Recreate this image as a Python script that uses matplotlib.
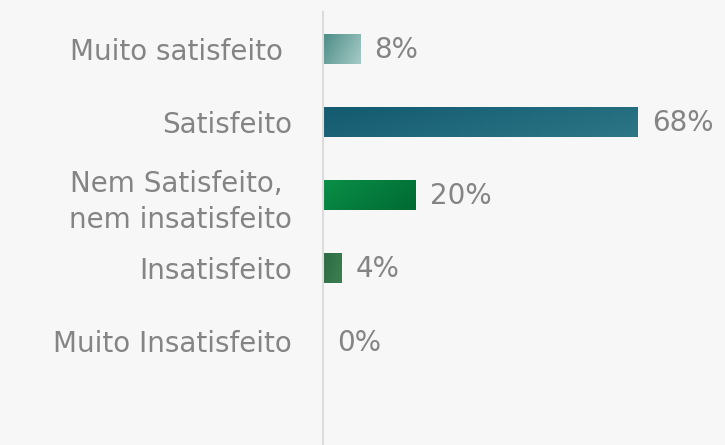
import numpy as np
import matplotlib.pyplot as plt
from matplotlib.colors import to_rgb

# dados da pesquisa de satisfação
categorias = ["Muito satisfeito ", "Satisfeito", "Nem Satisfeito, \nnem insatisfeito", "Insatisfeito", "Muito Insatisfeito"]
valores = [8, 68, 20, 4, 0]

# cores (início, fim) do degradê de cada barra
cores = [("#4c8c86", "#a6cbc7"), ("#145a70", "#2c7686"), ("#0a8f47", "#006a33"),
         ("#2c6a42", "#3d8052"), ("#3f8a55", "#3f8a55")]

fundo = "#f7f7f7"
cinza = "#848484"
fonte = dict(family="DejaVu Sans", fontsize=20)


def degrade(c1, c2, n=64):
    # degradê diagonal (canto superior esquerdo -> inferior direito)
    a = np.array(to_rgb(c1))
    b = np.array(to_rgb(c2))
    xx, yy = np.meshgrid(np.linspace(0, 1, n), np.linspace(0, 1, n))
    t = (0.7 * xx + 0.3 * yy)[..., None]
    return a * (1 - t) + b * t


fig = plt.figure(figsize=(7.25, 4.45), dpi=100, facecolor=fundo)
ax = fig.add_axes([322.5 / 725, 0, 1 - 322.5 / 725, 1 - 12 / 445])
ax.set_facecolor(fundo)

altura = 0.41
for i, (v, (c1, c2)) in enumerate(zip(valores, cores)):
    largura = v if v > 0 else 0.12
    ax.imshow(degrade(c1, c2), extent=[0, largura, i + altura / 2, i - altura / 2],
              aspect="auto", interpolation="bilinear", zorder=2)
    ax.text(v + 3.2, i + 0.02, f"{v}%", va="center", ha="left", color=cinza, **fonte)

ax.set_xlim(0, 86.9)
ax.set_ylim(5.42, -0.5)
ax.set_yticks(range(len(categorias)))
ax.set_yticklabels(categorias, color=cinza, linespacing=1.35, **fonte)
ax.tick_params(axis="y", length=0, pad=22)
ax.set_xticks([])
for lado in ["top", "right", "bottom"]:
    ax.spines[lado].set_visible(False)
ax.spines["left"].set_color("#dcdcdc")
ax.spines["left"].set_linewidth(1.5)

fig.savefig("out.png", dpi=100, facecolor=fundo)
